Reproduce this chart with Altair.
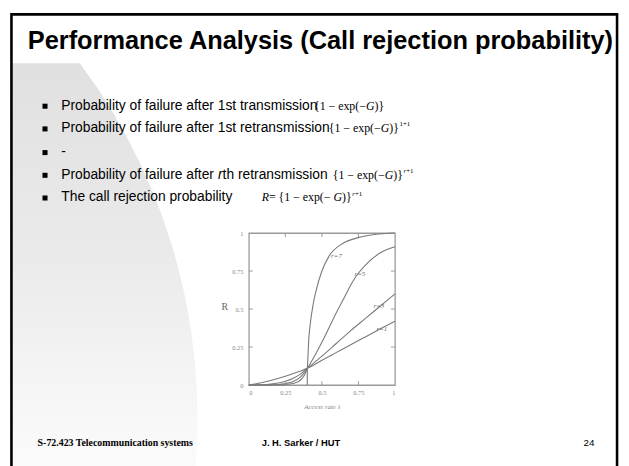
import altair as alt
import pandas as pd

# ---------------- data ----------------
r_list = [7, 5, 3, 1]
r7_x = [0, 0.2, 0.25, 0.3, 0.35, 0.40, 0.405, 0.41, 0.42, 0.44, 0.46, 0.5, 0.55, 0.64, 0.75, 0.86, 1.0]
r7_y = [0, 0.001, 0.003, 0.01, 0.03, 0.11, 0.2, 0.3, 0.4, 0.53, 0.62, 0.75, 0.85, 0.93, 0.97, 0.99, 1.0]
r5_x = [0, 0.15, 0.2, 0.25, 0.3, 0.35, 0.40, 0.46, 0.52, 0.59, 0.65, 0.71, 0.82, 0.9, 1.0]
r5_y = [0, 0.001, 0.004, 0.01, 0.022, 0.05, 0.11, 0.21, 0.32, 0.46, 0.57, 0.68, 0.81, 0.87, 0.91]
r3_x = [0, 0.1, 0.15, 0.2, 0.25, 0.3, 0.35, 0.40, 0.5, 0.6, 0.7, 0.8, 0.9, 1.0]
r3_y = [0, 0.002, 0.006, 0.013, 0.025, 0.043, 0.07, 0.11, 0.19, 0.275, 0.36, 0.44, 0.52, 0.60]
r1_x = [0, 0.05, 0.1, 0.15, 0.2, 0.25, 0.3, 0.35, 0.40, 0.5, 0.6, 0.7, 0.8, 0.9, 1.0]
r1_y = [0, 0.008, 0.018, 0.03, 0.043, 0.058, 0.074, 0.091, 0.11, 0.163, 0.215, 0.267, 0.318, 0.37, 0.42]
threshold_x = [0.40, 0.40]
threshold_y = [0.0, 0.11]
tick_values = [0, 0.25, 0.5, 0.75, 1]
inner_ticks = [0.25, 0.5, 0.75]
curve_labels = ["r=7", "r=5", "r=3", "r=1"]
label_x = [0.60, 0.76, 0.89, 0.91]
label_y = [0.85, 0.73, 0.52, 0.37]

title_text = "Performance Analysis (Call rejection probability)"
bullet_texts = [
    "Probability of failure after 1st transmission",
    "Probability of failure after 1st retransmission",
    "-",
    None,  # composed line with italic r
    "The call rejection probability",
]
row4_parts = ["Probability of failure after ", "r", "th retransmission"]
footer_left = "S-72.423 Telecommunication systems"
footer_mid = "J. H. Sarker / HUT"
footer_right = "24"
x_title = "Access rate λ"
y_title = "R"

# ---------------- layout helpers ----------------
X0, Y0 = 252, 233          # page position of the plot area
W, H = 148, 154
SANS = "Liberation Sans, Arial, sans-serif"
SERIF = "Liberation Serif, Times New Roman, serif"
dummy = pd.DataFrame({"d": [0]})

TIMES_W = {'{': 480, '}': 480, '1': 500, ' ': 250, '−': 564, 'e': 444, 'x': 500, 'p': 500,
           '(': 333, ')': 333, '=': 564, 'R': 611, 'G': 722, 'r': 389, '+': 564}
ARIAL_W = {'P': 667, 'r': 333, 'o': 556, 'b': 556, 'a': 556, 'i': 222, 'l': 222, 't': 278,
           'y': 500, ' ': 278, 'f': 278, 'u': 556, 'e': 556}


def pv(x, y):
    return dict(x=alt.value(x - X0), y=alt.value(y - Y0))


def txt(s, x, y, size, font=SANS, weight="normal", style="normal", color="black", align="left"):
    return alt.Chart(dummy).mark_text(
        text=s, font=font, fontSize=size, fontWeight=weight, fontStyle=style,
        color=color, align=align, baseline="alphabetic").encode(**pv(x, y))


def formula(x0, y, fs, segments):
    out, x = [], x0
    for s, it in segments:
        out.append(txt(s, x, y, fs, font=SERIF, style="italic" if it else "normal"))
        x += sum(TIMES_W.get(c, 500) for c in s) * fs / 1000.0
    return out, x


layers = []

# background swoosh (circle radius 600 -> symbol size = (2r)^2)
grad = alt.Gradient(gradient="linear", x1=0, x2=0, y1=0, y2=1,
                    stops=[alt.GradientStop(offset=0.2, color="#e0e0e0"),
                           alt.GradientStop(offset=0.36, color="#eaeaea"),
                           alt.GradientStop(offset=0.53, color="#fafafa")])
layers.append(alt.Chart(dummy).mark_circle(size=1440000, fill=grad, fillOpacity=1, strokeWidth=0)
              .encode(**pv(-400, 420)))
layers.append(alt.Chart(dummy).mark_rect(color="white").encode(
    x=alt.value(0 - X0), x2=alt.value(629 - X0), y=alt.value(0 - Y0), y2=alt.value(61 - Y0)))
layers.append(alt.Chart(dummy).mark_rect(color="white").encode(
    x=alt.value(0 - X0), x2=alt.value(10 - X0), y=alt.value(0 - Y0), y2=alt.value(470 - Y0)))
# slide frame
layers.append(alt.Chart(dummy).mark_rect(fillOpacity=0, stroke="black", strokeWidth=2.6).encode(
    x=alt.value(11.5 - X0), x2=alt.value(625 - X0), y=alt.value(11.5 - Y0), y2=alt.value(490 - Y0)))

# title
layers.append(txt(title_text, 28, 47, 25.7, font=SANS, weight="bold"))

# bullets
FS = 14
baselines = [108, 131, 155, 178, 201]
for b in baselines:
    layers.append(alt.Chart(dummy).mark_square(size=26, color="black", opacity=1).encode(**pv(45.5, b - 3.5)))
for t, b in zip(bullet_texts, baselines):
    if t is not None:
        layers.append(txt(t, 62, b, FS))
x = 62
for part in row4_parts:
    layers.append(txt(part, x, baselines[3], FS, style="italic" if part == "r" else "normal"))
    x += sum(ARIAL_W.get(c, 556) for c in part) * FS / 1000.0

base_seg = [("{1 − exp(−", False), ("G", True), (")}", False)]
FF = 12
f1, _ = formula(318, baselines[0], FF, base_seg)
f2, e2 = formula(333, baselines[1], FF, base_seg)
f4, e4 = formula(337, baselines[3], FF, base_seg)
f5, e5 = formula(265, baselines[4], FF, [("R", True), (" = {1 − exp(−", False), ("G", True), (")}", False)])
layers += f1 + f2 + f4 + f5
layers.append(txt("1+1", e2 + 0.5, baselines[1] - 6, 7, font=SERIF))
for ee, bb in [(e4, baselines[3]), (e5, baselines[4])]:
    layers.append(txt("r", ee + 0.5, bb - 6, 7, font=SERIF, style="italic"))
    layers.append(txt("+1", ee + 3.3, bb - 6, 7, font=SERIF))

# footer
layers.append(txt(footer_left, 38, 449, 10, font=SERIF, weight="bold"))
layers.append(txt(footer_mid, 265, 449, 9.5, weight="bold"))
layers.append(txt(footer_right, 591, 449, 10))

# ---------------- the plot ----------------
rows = []
for r, xs_, ys_ in zip(r_list, [r7_x, r5_x, r3_x, r1_x], [r7_y, r5_y, r3_y, r1_y]):
    for a, bval in zip(xs_, ys_):
        rows.append({"lam": a, "R": bval, "r": r})
curves = pd.DataFrame(rows)
sx = alt.Scale(domain=[0, 1], nice=False, zero=False)
sy = alt.Scale(domain=[0, 1], nice=False, zero=False)
AX = alt.Axis(values=tick_values, labelExpr="'' + datum.value", tickSize=0, domain=False, grid=False,
              labelFontSize=6.5, labelColor="#888", labelFont=SERIF, labelPadding=5,
              title=x_title, titleFontSize=7, titleFont=SERIF, titleFontStyle="italic",
              titleFontWeight="normal", titleColor="#888", titlePadding=6)
AY = alt.Axis(values=tick_values, labelExpr="'' + datum.value", tickSize=0, domain=False, grid=False,
              labelFontSize=6.5, labelColor="#888", labelFont=SERIF, labelPadding=6,
              title=y_title, titleAngle=0, titleX=-25, titleY=74, titleAlign="center",
              titleBaseline="middle", titleFontSize=10, titleFont=SERIF, titleColor="#666",
              titleFontWeight="normal")
XE = lambda f: alt.X(f, scale=sx, axis=AX)
YE = lambda f: alt.Y(f, scale=sy, axis=AY)

LINE = "#7a7a7a"
layers.append(alt.Chart(curves).mark_line(color=LINE, strokeWidth=1.1, interpolate="monotone").encode(
    x=XE("lam:Q"), y=YE("R:Q"), detail="r:N"))

layers.append(alt.Chart(pd.DataFrame({"lam": threshold_x, "R": threshold_y})).mark_line(
    color=LINE, strokeWidth=1.1).encode(x=XE("lam:Q"), y=YE("R:Q")))

tk = pd.DataFrame({"lam": inner_ticks, "R": inner_ticks})
TC = "#999"
layers.append(alt.Chart(tk).mark_rule(color=TC).encode(x=XE("lam:Q"), y=alt.value(H), y2=alt.value(H - 4)))
layers.append(alt.Chart(tk).mark_rule(color=TC).encode(x=XE("lam:Q"), y=alt.value(0), y2=alt.value(4)))
layers.append(alt.Chart(tk).mark_rule(color=TC).encode(y=YE("R:Q"), x=alt.value(0), x2=alt.value(4)))
layers.append(alt.Chart(tk).mark_rule(color=TC).encode(y=YE("R:Q"), x=alt.value(W), x2=alt.value(W - 4)))

lab = pd.DataFrame({"lam": label_x, "R": label_y, "txt": curve_labels})
layers.append(alt.Chart(lab).mark_text(font=SERIF, fontStyle="italic", fontSize=7, color="#666",
                                        align="center", baseline="middle").encode(
    x=XE("lam:Q"), y=YE("R:Q"), text="txt:N"))

chart = alt.layer(*layers).properties(
    width=W, height=H,
    padding={"left": X0 - 8, "top": Y0 - 8, "right": 621 - (X0 - 8) - W, "bottom": 458 - (Y0 - 8) - H},
    autosize=alt.AutoSizeParams(type="none"),
    background="white",
).configure_view(stroke="#9a9a9a", strokeWidth=1.3)

chart.save("out.html", embed_options={"renderer": "svg", "actions": False})
